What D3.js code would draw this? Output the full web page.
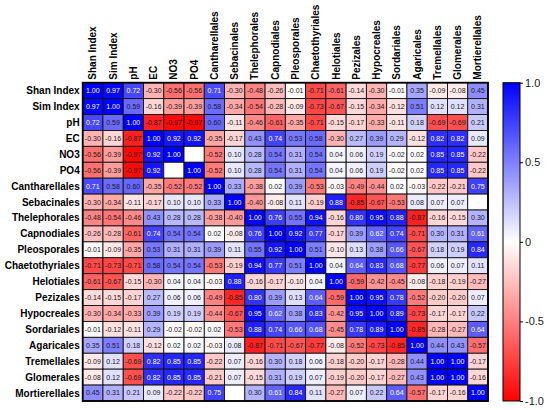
<!DOCTYPE html>
<html>
<head>
<meta charset="utf-8">
<script src="https://d3js.org/d3.v7.min.js"></script>
<style>
  body { margin: 0; background: #fff; }
  text { font-family: "Liberation Sans", Arial, sans-serif; }
</style>
</head>
<body>
<div id="heatmap"></div>
<script>
var labels = ["Shan Index", "Sim Index", "pH", "EC", "NO3", "PO4", "Cantharellales",
  "Sebacinales", "Thelephorales", "Capnodiales", "Pleosporales", "Chaetothyriales",
  "Helotiales", "Pezizales", "Hypocreales", "Sordariales", "Agaricales",
  "Tremellales", "Glomerales", "Mortierellales"];

// null = blank cell in the original
var values = [
  [1.00, 0.97, 0.72, -0.30, -0.56, -0.56, 0.71, -0.30, -0.48, -0.26, -0.01, -0.71, -0.61, -0.14, -0.30, -0.01, 0.35, -0.09, -0.08, 0.45],
  [0.97, 1.00, 0.59, -0.16, -0.39, -0.39, 0.58, -0.34, -0.54, -0.28, -0.09, -0.73, -0.67, -0.15, -0.34, -0.12, 0.51, 0.12, 0.12, 0.31],
  [0.72, 0.59, 1.00, -0.87, -0.97, -0.97, 0.60, -0.11, -0.46, -0.61, -0.35, -0.71, -0.15, -0.17, -0.33, -0.11, 0.18, -0.69, -0.69, 0.21],
  [-0.30, -0.16, -0.87, 1.00, 0.92, 0.92, -0.35, -0.17, 0.43, 0.74, 0.53, 0.58, -0.30, 0.27, 0.39, 0.29, -0.12, 0.82, 0.82, 0.09],
  [-0.56, -0.39, -0.97, 0.92, 1.00, null, -0.52, 0.10, 0.28, 0.54, 0.31, 0.54, 0.04, 0.06, 0.19, -0.02, 0.02, 0.85, 0.85, -0.22],
  [-0.56, -0.39, -0.97, 0.92, null, 1.00, -0.52, 0.10, 0.28, 0.54, 0.31, 0.54, 0.04, 0.06, 0.19, -0.02, 0.02, 0.85, 0.85, -0.22],
  [0.71, 0.58, 0.60, -0.35, -0.52, -0.52, 1.00, 0.33, -0.38, 0.02, 0.39, -0.53, -0.03, -0.49, -0.44, 0.02, -0.03, -0.22, -0.21, 0.75],
  [-0.30, -0.34, -0.11, -0.17, 0.10, 0.10, 0.33, 1.00, -0.40, -0.08, 0.11, -0.19, 0.88, -0.85, -0.67, -0.53, 0.08, 0.07, 0.07, null],
  [-0.48, -0.54, -0.46, 0.43, 0.28, 0.28, -0.38, -0.40, 1.00, 0.76, 0.55, 0.94, -0.16, 0.80, 0.95, 0.88, -0.87, -0.16, -0.15, 0.30],
  [-0.26, -0.28, -0.61, 0.74, 0.54, 0.54, 0.02, -0.08, 0.76, 1.00, 0.92, 0.77, -0.17, 0.39, 0.62, 0.74, -0.71, 0.30, 0.31, 0.61],
  [-0.01, -0.09, -0.35, 0.53, 0.31, 0.31, 0.39, 0.11, 0.55, 0.92, 1.00, 0.51, -0.10, 0.13, 0.38, 0.66, -0.67, 0.18, 0.19, 0.84],
  [-0.71, -0.73, -0.71, 0.58, 0.54, 0.54, -0.53, -0.19, 0.94, 0.77, 0.51, 1.00, 0.04, 0.64, 0.83, 0.68, -0.77, 0.06, 0.07, 0.11],
  [-0.61, -0.67, -0.15, -0.30, 0.04, 0.04, -0.03, 0.88, -0.16, -0.17, -0.10, 0.04, 1.00, -0.59, -0.42, -0.45, -0.08, -0.18, -0.19, -0.27],
  [-0.14, -0.15, -0.17, 0.27, 0.06, 0.06, -0.49, -0.85, 0.80, 0.39, 0.13, 0.64, -0.59, 1.00, 0.95, 0.78, -0.52, -0.20, -0.20, 0.07],
  [-0.30, -0.34, -0.33, 0.39, 0.19, 0.19, -0.44, -0.67, 0.95, 0.62, 0.38, 0.83, -0.42, 0.95, 1.00, 0.89, -0.73, -0.17, -0.17, 0.22],
  [-0.01, -0.12, -0.11, 0.29, -0.02, -0.02, 0.02, -0.53, 0.88, 0.74, 0.66, 0.68, -0.45, 0.78, 0.89, 1.00, -0.85, -0.28, -0.27, 0.64],
  [0.35, 0.51, 0.18, -0.12, 0.02, 0.02, -0.03, 0.08, -0.87, -0.71, -0.67, -0.77, -0.08, -0.52, -0.73, -0.85, 1.00, 0.44, 0.43, -0.57],
  [-0.09, 0.12, -0.69, 0.82, 0.85, 0.85, -0.22, 0.07, -0.16, 0.30, 0.18, 0.06, -0.18, -0.20, -0.17, -0.28, 0.44, 1.00, 1.00, -0.17],
  [-0.08, 0.12, -0.69, 0.82, 0.85, 0.85, -0.21, 0.07, -0.15, 0.31, 0.19, 0.07, -0.19, -0.20, -0.17, -0.27, 0.43, 1.00, 1.00, -0.16],
  [0.45, 0.31, 0.21, 0.09, -0.22, -0.22, 0.75, null, 0.30, 0.61, 0.84, 0.11, -0.27, 0.07, 0.22, 0.64, -0.57, -0.17, -0.16, 1.00]
];

var legendTicks = [1.0, 0.5, 0, -0.5, -1.0];
var legendTickLabels = ["1.0", "0.5", "0", "-0.5", "-1.0"];

var svgWidth = 550, svgHeight = 410;
var margin = {left: 82.7, top: 82.7};
var width = 405.3, height = 318.3;

var svg = d3.select("#heatmap").append("svg")
  .attr("width", svgWidth)
  .attr("height", svgHeight);

var chartGroup = svg.append("g")
  .attr("transform", `translate(${margin.left}, ${margin.top})`);

var xScale = d3.scaleBand().domain(labels).range([0, width]);
var yScale = d3.scaleBand().domain(labels).range([0, height]);
var colour = d3.scaleLinear().domain([-1, 0, 1]).range(["#ff0000", "#ffffff", "#0000ff"]);

// flatten into cells
var cells = [];
values.forEach(function(row, i) {
  row.forEach(function(v, j) {
    cells.push({row: labels[i], col: labels[j], value: v});
  });
});

chartGroup.selectAll("rect.cell")
  .data(cells)
  .enter()
  .append("rect")
  .attr("class", "cell")
  .attr("x", d => xScale(d.col))
  .attr("y", d => yScale(d.row))
  .attr("width", xScale.bandwidth())
  .attr("height", yScale.bandwidth())
  .attr("fill", d => d.value === null ? "#ffffff" : colour(d.value))
  .attr("stroke", "#111")
  .attr("stroke-width", 0.9);

chartGroup.selectAll("text.val")
  .data(cells.filter(d => d.value !== null))
  .enter()
  .append("text")
  .attr("class", "val")
  .attr("x", d => xScale(d.col) + xScale.bandwidth() / 2)
  .attr("y", d => yScale(d.row) + yScale.bandwidth() / 2)
  .attr("dy", "0.35em")
  .style("text-anchor", "middle")
  .style("font-size", "7px")
  .style("fill", d => d.value > 0.6 ? "#ffffff" : "#1a1a1a")
  .text(d => d.value.toFixed(2));

// outer frame
chartGroup.append("rect")
  .attr("width", width)
  .attr("height", height)
  .attr("fill", "none")
  .attr("stroke", "#000")
  .attr("stroke-width", 1.8);

// row labels
chartGroup.selectAll("text.rowlab")
  .data(labels)
  .enter()
  .append("text")
  .attr("class", "rowlab")
  .attr("x", -3)
  .attr("y", d => yScale(d) + yScale.bandwidth() / 2)
  .attr("dy", "0.35em")
  .style("text-anchor", "end")
  .style("font-size", "10px")
  .style("font-weight", "bold")
  .text(d => d);

// column labels
chartGroup.selectAll("text.collab")
  .data(labels)
  .enter()
  .append("text")
  .attr("class", "collab")
  .attr("transform", d => `translate(${xScale(d) + xScale.bandwidth() / 2}, -3) rotate(-90)`)
  .attr("dy", "0.35em")
  .style("text-anchor", "start")
  .style("font-size", "10px")
  .style("font-weight", "bold")
  .text(d => d);

// colour bar
var barX = 503, barW = 17;
var legendScale = d3.scaleLinear().domain([1, -1]).range([margin.top, margin.top + height]);

var defs = svg.append("defs");
var grad = defs.append("linearGradient")
  .attr("id", "cbar")
  .attr("x1", "0").attr("y1", "0").attr("x2", "0").attr("y2", "1");
grad.selectAll("stop")
  .data(d3.range(0, 1.0001, 0.1))
  .enter()
  .append("stop")
  .attr("offset", d => d)
  .attr("stop-color", d => colour(1 - 2 * d));

svg.append("rect")
  .attr("x", barX)
  .attr("y", margin.top)
  .attr("width", barW)
  .attr("height", height)
  .attr("fill", "url(#cbar)")
  .attr("stroke", "#000")
  .attr("stroke-width", 1);

var legendAxis = d3.axisRight(legendScale)
  .tickValues(legendTicks)
  .tickSize(3)
  .tickFormat((d, i) => legendTickLabels[i]);

var axisG = svg.append("g")
  .attr("transform", `translate(${barX + barW}, 0)`)
  .call(legendAxis);
axisG.select(".domain").remove();
axisG.selectAll("line").attr("stroke", "#000");
axisG.selectAll("text")
  .attr("x", 5)
  .style("font-size", "11px")
  .style("font-family", "'Liberation Sans', Arial, sans-serif")
  .attr("fill", "#222");
</script>
</body>
</html>
